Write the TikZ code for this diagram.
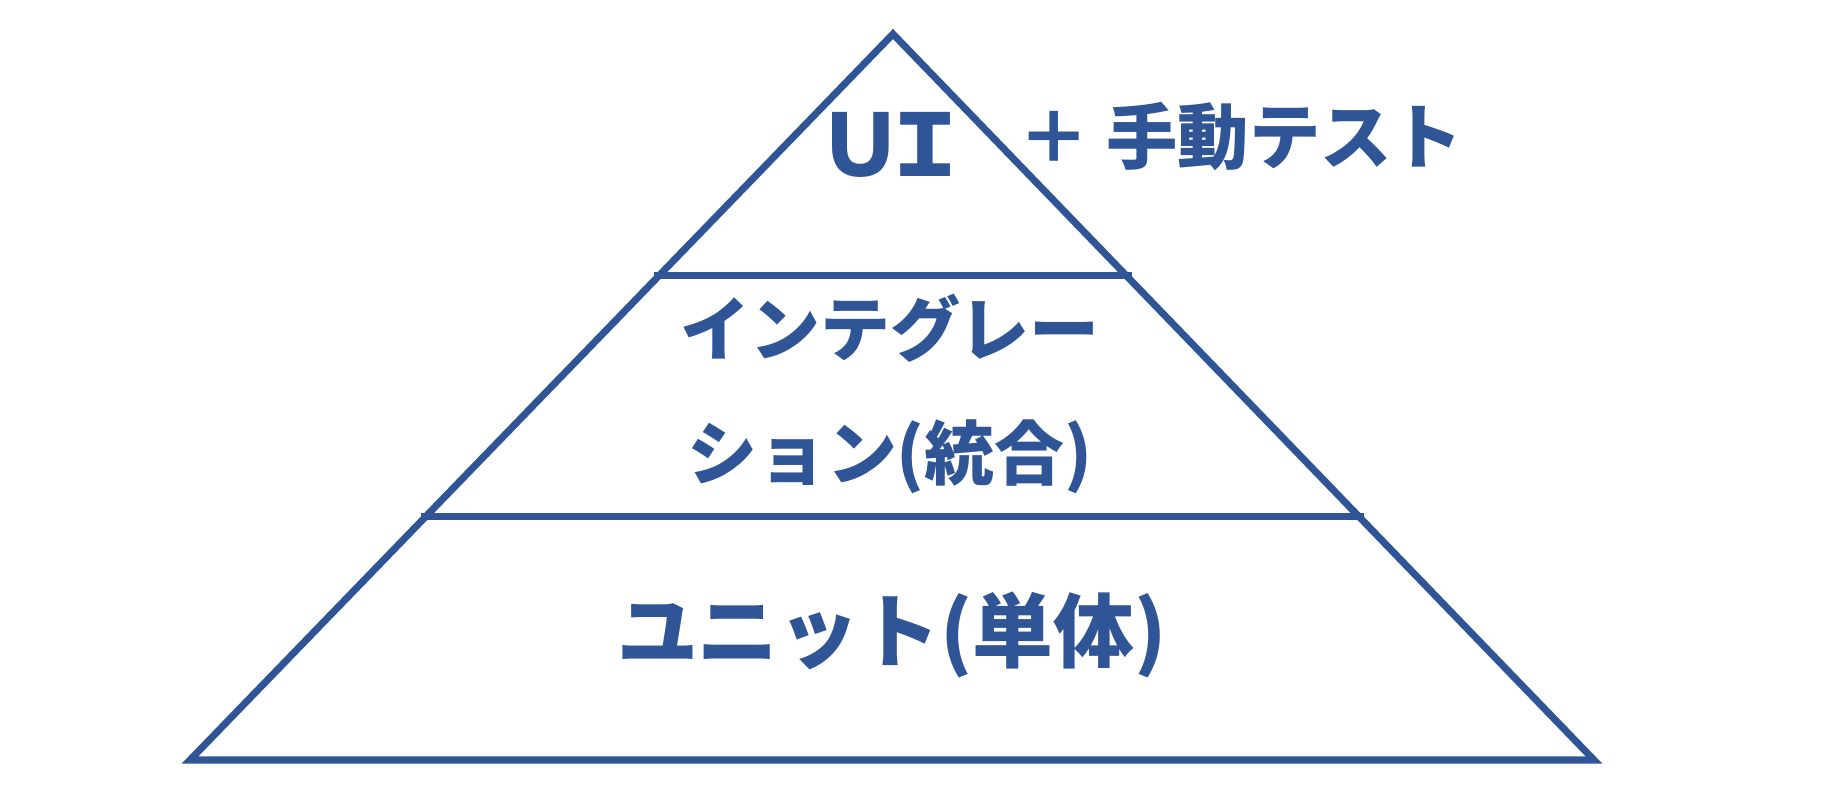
\documentclass[tikz,border=0pt]{standalone}
\usepackage{fontspec}
\setmainfont{Noto Sans CJK JP}
\usepackage{tikz}
\usetikzlibrary{calc}
\usepackage{xcolor}
\definecolor{pyblue}{RGB}{47,85,151}

\begin{document}
\begin{tikzpicture}[
  edge/.style={draw=pyblue, line width=2pt, line join=miter},
  band/.style={draw=pyblue, line width=2pt,
               shorten <=-0.05cm, shorten >=-0.05cm},
  lbl/.style={text=pyblue, font=\bfseries\fontsize{19.9}{35.2}\selectfont,
              inner sep=0pt, align=center},
  top/.style={lbl, font=\bfseries\fontsize{20.3}{24}\selectfont},
  big/.style={lbl, font=\bfseries\fontsize{23}{27}\selectfont},
  huge/.style={lbl, font=\bfseries\fontsize{24.4}{30}\selectfont}
]
  \useasboundingbox (0,0) rectangle (18.26,7.96);

  \coordinate (apex) at (8.93,7.62);
  \coordinate (bl)   at (1.90,0.36);
  \coordinate (br)   at (15.94,0.36);

  % pyramid outline
  \draw[edge] (apex) -- (bl) -- (br) -- cycle;

  % tiers
  \coordinate (l1) at ($(apex)!0.3333!(bl)$);
  \coordinate (r1) at ($(apex)!0.3333!(br)$);
  \coordinate (l2) at ($(apex)!0.665!(bl)$);
  \coordinate (r2) at ($(apex)!0.665!(br)$);
  \draw[band] (l1) -- (r1);
  \draw[band] (l2) -- (r2);

  \node[huge] (ui)     at (8.93,6.51) {Ｕ\kern-6ptＩ};
  \node[top]  (manual) at (12.41,6.59) {＋ 手動テスト};
  \node[lbl]  (integ)  at (8.90,4.02) {インテグレー\\ション(統合)};
  \node[big]  (unit)   at (8.92,1.61) {ユニット(単体)};
\end{tikzpicture}
\end{document}
